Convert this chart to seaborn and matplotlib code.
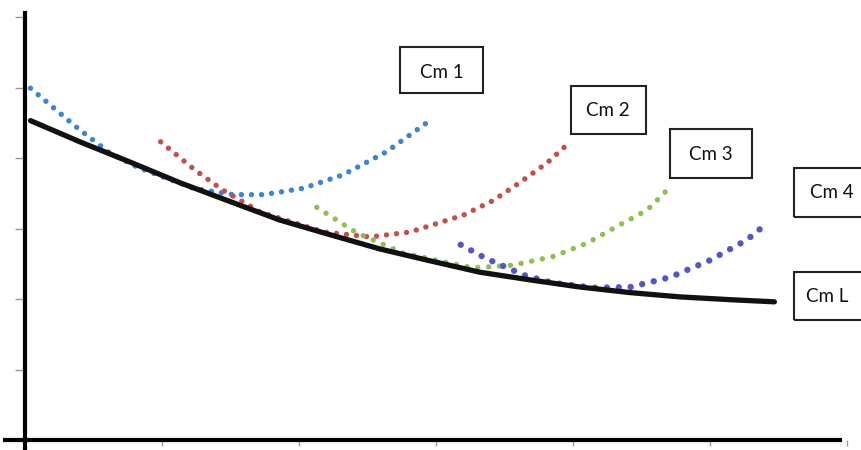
import matplotlib
matplotlib.use("Agg")
import matplotlib.pyplot as plt
import seaborn as sns
import pandas as pd
from matplotlib.patches import Rectangle

sns.set_style("white")
plt.rcParams['font.family'] = ['Lato', 'DejaVu Sans']

# ---- data ----
cml_x = [0.04, 0.40, 0.77, 1.13, 1.50, 1.86, 2.23, 2.59, 2.96, 3.32, 3.69, 4.05, 4.42, 4.78, 5.15, 5.47]
cml_y = [4.53, 4.23, 3.94, 3.65, 3.38, 3.12, 2.91, 2.71, 2.54, 2.38, 2.27, 2.17, 2.09, 2.03, 1.99, 1.96]

cm1_x = [0.04, 0.38, 0.62, 0.82, 1.23, 1.52, 1.74, 2.03, 2.32, 2.64, 2.94]
cm1_y = [4.99, 4.43, 4.07, 3.87, 3.57, 3.48, 3.48, 3.57, 3.76, 4.09, 4.51]

cm2_x = [0.99, 1.24, 1.44, 1.72, 2.18, 2.52, 2.81, 3.20, 3.42, 3.61, 3.81, 3.94]
cm2_y = [4.23, 3.83, 3.55, 3.23, 2.95, 2.88, 2.95, 3.19, 3.40, 3.65, 3.93, 4.16]

cm3_x = [2.13, 2.42, 2.76, 3.27, 3.56, 3.85, 4.10, 4.34, 4.54, 4.69]
cm3_y = [3.30, 2.94, 2.65, 2.44, 2.48, 2.60, 2.79, 3.05, 3.26, 3.55]

cm4_x = [3.18, 3.36, 3.64, 3.85, 4.15, 4.42, 4.71, 5.00, 5.27, 5.42]
cm4_y = [2.77, 2.58, 2.34, 2.23, 2.16, 2.17, 2.31, 2.55, 2.84, 3.08]

labels = ["Cm 1", "Cm 2", "Cm 3", "Cm 4", "Cm L"]
x_ticks = [1, 2, 3, 4, 5, 6]
y_ticks = [1, 2, 3, 4, 5, 6]

colors = {"Cm 1": "#3f84d4", "Cm 2": "#c4504e", "Cm 3": "#8cc152", "Cm 4": "#5558c4", "Cm L": "#111111"}

W, H = 861, 450
fig = plt.figure(figsize=(W / 100, H / 100), dpi=100)
ax = fig.add_axes([0, 0, 1, 1])

def px2x(px):
    return (px - 25) / 137.0

def py2y(py):
    return (440 - py) / 70.5

ax.set_xlim(px2x(0), px2x(W))
ax.set_ylim(py2y(H), py2y(0))

series = [("Cm 1", cm1_x, cm1_y, 3.9, 1.85),
          ("Cm 2", cm2_x, cm2_y, 3.9, 1.85),
          ("Cm 3", cm3_x, cm3_y, 3.9, 2.0),
          ("Cm 4", cm4_x, cm4_y, 4.6, 1.85)]
for name, xs, ys, lw, gap in series:
    df = pd.DataFrame({"x": xs, "y": ys})
    sns.lineplot(data=df, x="x", y="y", ax=ax, sort=False, color=colors[name],
                 linewidth=lw, linestyle=(0, (0.01, gap)), dash_capstyle="round")

dfl = pd.DataFrame({"x": cml_x, "y": cml_y})
sns.lineplot(data=dfl, x="x", y="y", ax=ax, sort=False, color=colors["Cm L"],
             linewidth=3.8, solid_capstyle="round", solid_joinstyle="round")

# axes
for s in ["top", "right"]:
    ax.spines[s].set_visible(False)
ax.spines["left"].set_position(("data", 0))
ax.spines["bottom"].set_position(("data", 0))
ax.spines["left"].set_linewidth(3.0)
ax.spines["bottom"].set_linewidth(3.0)
ax.spines["left"].set_color("black")
ax.spines["bottom"].set_color("black")
ax.spines["left"].set_bounds(py2y(450), py2y(13))
ax.spines["bottom"].set_bounds(px2x(5), px2x(840))
ax.set_xticks(x_ticks)
ax.set_yticks(y_ticks)
ax.set_xticklabels([])
ax.set_yticklabels([])
ax.tick_params(axis="x", direction="out", length=4, width=1, color="#999999", bottom=True)
ax.tick_params(axis="y", direction="out", length=7, width=1, color="#999999", left=True)
ax.set_xlabel("")
ax.set_ylabel("")

# label boxes (pixel geometry of the reference)
boxes = [(400, 47, 483, 93, 442, 72),
         (571, 86, 646, 134, 608, 111),
         (670, 129, 752, 178, 711, 154),
         (794, 168, 875, 217, 832, 193),
         (794, 272, 875, 320, 827, 296)]
for lab, (x0, y0, x1, y1, tx, ty) in zip(labels, boxes):
    rect = Rectangle((x0 / W, 1 - y1 / H), (x1 - x0) / W, (y1 - y0) / H,
                     transform=fig.transFigure, fill=False, edgecolor="#222222",
                     linewidth=1.5, clip_on=False)
    fig.patches.append(rect)
    fig.text(tx / W, 1 - ty / H, lab, ha="center", va="center", fontsize=13.5, color="#111111")

fig.savefig("out.png", dpi=100)
